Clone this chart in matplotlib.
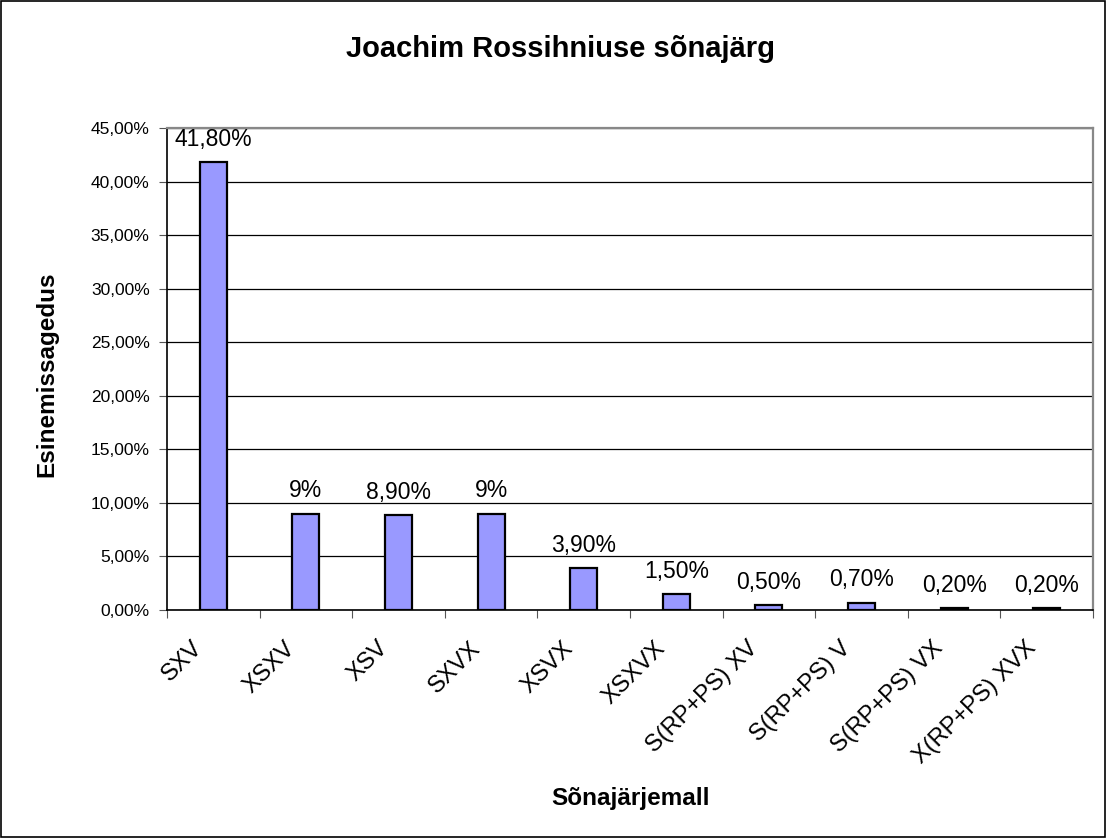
import matplotlib
matplotlib.use("Agg")
import matplotlib.pyplot as plt
from matplotlib.patches import Rectangle
from matplotlib.ticker import FuncFormatter, FixedLocator
from matplotlib.transforms import ScaledTranslation
import numpy as np

plt.rcParams['font.family'] = ['Liberation Sans', 'DejaVu Sans']

categories = ['SXV', 'XSXV', 'XSV', 'SXVX', 'XSVX', 'XSXVX',
              'S(RP+PS) XV', 'S(RP+PS) V', 'S(RP+PS) VX', 'X(RP+PS) XVX']
values = [41.8, 9.0, 8.9, 9.0, 3.9, 1.5, 0.5, 0.7, 0.2, 0.2]
value_labels = ['41,80%', '9%', '8,90%', '9%', '3,90%', '1,50%',
                '0,50%', '0,70%', '0,20%', '0,20%']

W, H = 1106, 838
fig = plt.figure(figsize=(W / 100, H / 100), dpi=100)
ax = fig.add_axes([167 / W, 1 - 610 / H, (1093 - 167) / W, (610 - 128) / H])

x = np.arange(len(categories))
ax.bar(x, values, width=0.29, color='#9999FF', edgecolor='black', linewidth=1.6, zorder=3)

for xi, v, lab in zip(x, values, value_labels):
    ax.annotate(lab, (xi, v), xytext=(0, 8), textcoords='offset points',
                ha='center', va='bottom', fontsize=16.5, zorder=4, annotation_clip=False)

ax.set_xlim(-0.5, len(categories) - 0.5)
ax.set_ylim(0, 45)
ax.set_yticks(np.arange(0, 46, 5))
ax.yaxis.set_major_formatter(FuncFormatter(lambda v, p: ('%.2f%%' % v).replace('.', ',')))
ax.yaxis.grid(True, color='black', linewidth=0.9, zorder=1)

# category ticks sit between bars, labels under the bars
ax.xaxis.set_major_locator(FixedLocator(np.arange(-0.5, len(categories), 1.0)))
ax.set_xticklabels([])
ax.xaxis.set_minor_locator(FixedLocator(x))
ax.set_xticklabels(categories, minor=True, rotation=45, ha='right', va='center',
                   rotation_mode='anchor', fontsize=17)
ax.tick_params(axis='x', which='minor', length=0, pad=25)
ax.tick_params(axis='x', which='major', length=6, direction='out', color='#555555')
ax.tick_params(axis='y', length=6, pad=6.5, direction='out', labelsize=12.5, color='#555555')
shift = ScaledTranslation(-14 / 100, 0, fig.dpi_scale_trans)
for lab in ax.get_xticklabels(minor=True):
    lab.set_transform(lab.get_transform() + shift)

for s in ['top', 'right']:
    ax.spines[s].set_color('#888888')
    ax.spines[s].set_linewidth(1.6)
for s in ['left', 'bottom']:
    ax.spines[s].set_color('black')
    ax.spines[s].set_linewidth(1.2)

fig.text(560 / W, 1 - 57 / H, 'Joachim Rossihniuse sõnajärg', ha='center', va='baseline',
         fontsize=21, fontweight='bold')
fig.text(47 / W, 1 - 374 / H, 'Esinemissagedus', rotation=90, ha='center', va='center',
         fontsize=17.5, fontweight='bold')
fig.text(631 / W, 1 - 805 / H, 'Sõnajärjemall', ha='center', va='baseline',
         fontsize=17.5, fontweight='bold')

fig.patches.append(Rectangle((0.001, 0.001), 0.998, 0.998, transform=fig.transFigure,
                             fill=False, edgecolor='black', linewidth=1.2))

fig.savefig('out.png', dpi=100)
